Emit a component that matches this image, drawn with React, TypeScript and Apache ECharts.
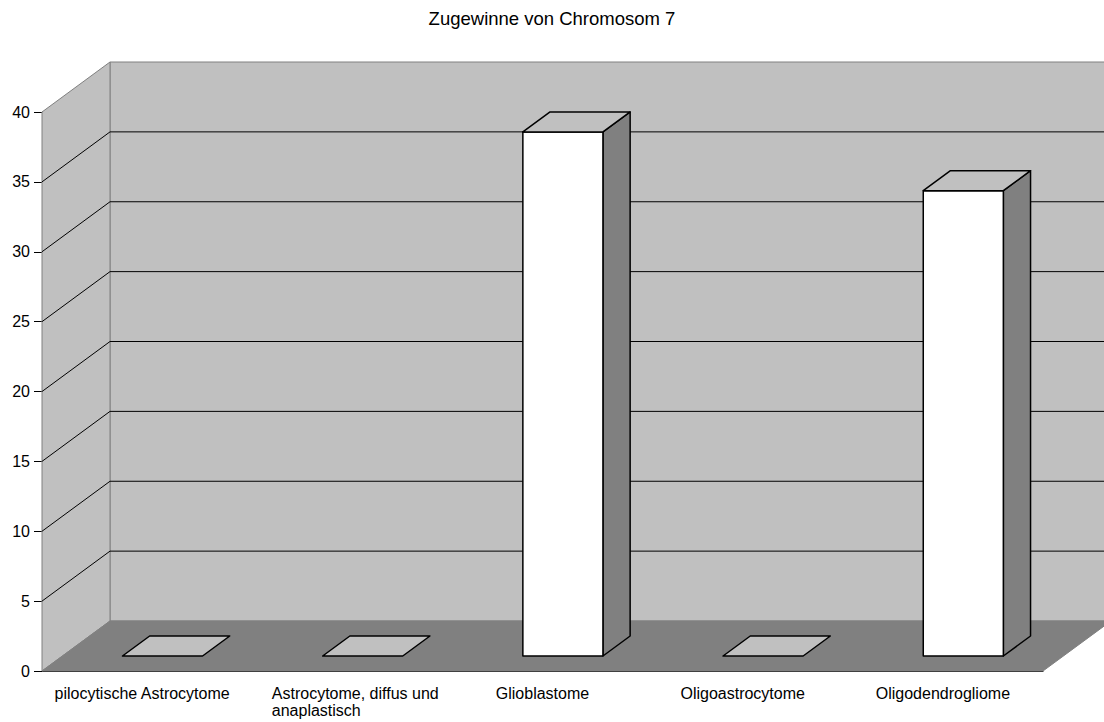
import React, { useEffect, useRef } from "react";
import * as echarts from "echarts";

const chartTitle = "Zugewinne von Chromosom 7";
const categories = [
  "pilocytische Astrocytome",
  "Astrocytome, diffus und\nanaplastisch",
  "Glioblastome",
  "Oligoastrocytome",
  "Oligodendrogliome",
];
const values = [0, 0, 37.5, 0, 33.3];
const yTicks = [0, 5, 10, 15, 20, 25, 30, 35, 40];

const DX = 68;
const DY = 50;
const WALL = "#c0c0c0";
const DARK = "#808080";
const FONT = "'Liberation Sans', Arial, sans-serif";
const LABEL_SIZE = 16;

export default function App() {
  const ref = useRef<HTMLDivElement>(null);
  useEffect(() => {
    if (!ref.current) return;
    const chart = echarts.init(ref.current, null, { renderer: "svg" });

    const ctx = document.createElement("canvas").getContext("2d")!;
    ctx.font = `${LABEL_SIZE}px 'Liberation Sans', Arial, sans-serif`;
    const multiWidth = (s: string) =>
      Math.ceil(Math.max(...s.split("\n").map((l) => ctx.measureText(l).width)));
    const rich: any = {};
    categories.forEach((c, i) => {
      if (c.includes("\n")) {
        rich["c" + i] = {
          width: multiWidth(c),
          align: "left",
          padding: [0, 0, 0, 26],
          fontSize: LABEL_SIZE,
          lineHeight: 17,
          fontFamily: FONT,
          color: "#000",
        };
      }
    });

    const yMin = yTicks[0];
    const yMax = yTicks[yTicks.length - 1];

    chart.setOption({
      animation: false,
      backgroundColor: "#ffffff",
      title: {
        text: chartTitle,
        left: "center",
        top: 4,
        textStyle: { fontSize: 18.5, fontWeight: "normal", color: "#000", fontFamily: FONT },
      },
      grid: { left: 42, right: 61, top: 112, bottom: 51, containLabel: false },
      xAxis: {
        type: "category",
        data: categories,
        boundaryGap: true,
        axisLine: { lineStyle: { color: "#000", width: 1 } },
        axisTick: { length: 9, lineStyle: { color: DARK } },
        axisLabel: {
          margin: 14,
          interval: 0,
          color: "#000",
          fontSize: LABEL_SIZE,
          lineHeight: 17,
          fontFamily: FONT,
          formatter: (v: string) => {
            const i = categories.indexOf(v);
            if (v.includes("\n")) {
              return v
                .split("\n")
                .map((l) => `{c${i}|${l}}`)
                .join("\n");
            }
            return v;
          },
          rich,
        },
        splitLine: { show: false },
      },
      yAxis: {
        type: "value",
        min: yMin,
        max: yMax,
        interval: 5,
        axisLine: { show: true, lineStyle: { color: "#000", width: 1 } },
        axisTick: { show: true, length: 8, lineStyle: { color: "#000" } },
        axisLabel: { margin: 12, color: "#000", fontSize: LABEL_SIZE, fontFamily: FONT },
        splitLine: { show: false },
      },
      series: [
        {
          type: "custom",
          name: "walls",
          silent: true,
          clip: false,
          z: 1,
          data: [[0, 0]],
          renderItem: (params: any, api: any) => {
            const cs = params.coordSys;
            const x = cs.x;
            const y = cs.y;
            const w = cs.width;
            const h = cs.height;
            const children: any[] = [
              {
                type: "rect",
                shape: { x: x + DX, y: y - DY, width: w, height: h },
                style: { fill: WALL, stroke: DARK, lineWidth: 1 },
              },
              {
                type: "polygon",
                shape: {
                  points: [
                    [x, y + h],
                    [x, y],
                    [x + DX, y - DY],
                    [x + DX, y + h - DY],
                  ],
                },
                style: { fill: WALL, stroke: DARK, lineWidth: 1 },
              },
              {
                type: "polygon",
                shape: {
                  points: [
                    [x, y + h],
                    [x + w, y + h],
                    [x + w + DX, y + h - DY],
                    [x + DX, y + h - DY],
                  ],
                },
                style: { fill: DARK, stroke: DARK, lineWidth: 1 },
              },
            ];
            yTicks.forEach((t) => {
              if (t === yMin || t === yMax) return;
              const yy = api.coord([0, t])[1];
              children.push({
                type: "line",
                shape: { x1: x + DX, y1: yy - DY, x2: x + DX + w, y2: yy - DY },
                style: { stroke: "#000", lineWidth: 1 },
              });
              children.push({
                type: "line",
                shape: { x1: x, y1: yy, x2: x + DX, y2: yy - DY },
                style: { stroke: "#000", lineWidth: 1 },
              });
            });
            return { type: "group", children };
          },
        },
        {
          type: "custom",
          name: "Zugewinne",
          clip: false,
          z: 2,
          data: values.map((v, i) => [i, v]),
          renderItem: (params: any, api: any) => {
            const i = api.value(0);
            const v = api.value(1);
            const base = api.coord([i, 0]);
            const top = api.coord([i, v]);
            const bw = api.size([1, 0])[0] * 0.4;
            const fx = base[0] - bw / 2 + DX * 0.3;
            const by = base[1] - DY * 0.3;
            const ty = top[1] - DY * 0.3;
            const ddx = DX * 0.4;
            const ddy = DY * 0.4;
            const stroke = { stroke: "#000", lineWidth: 1.5, lineJoin: "round" };
            const children: any[] = [];
            if (by - ty > 0.5) {
              children.push({
                type: "polygon",
                shape: {
                  points: [
                    [fx + bw, by],
                    [fx + bw + ddx, by - ddy],
                    [fx + bw + ddx, ty - ddy],
                    [fx + bw, ty],
                  ],
                },
                style: { fill: DARK, ...stroke },
              });
              children.push({
                type: "rect",
                shape: { x: fx, y: ty, width: bw, height: by - ty },
                style: { fill: "#ffffff", ...stroke },
              });
            }
            children.push({
              type: "polygon",
              shape: {
                points: [
                  [fx, ty],
                  [fx + bw, ty],
                  [fx + bw + ddx, ty - ddy],
                  [fx + ddx, ty - ddy],
                ],
              },
              style: { fill: WALL, ...stroke },
            });
            return { type: "group", children };
          },
        },
      ],
    });
    return () => chart.dispose();
  }, []);

  return (
    <div
      ref={ref}
      style={{ position: "fixed", left: 0, top: 0, width: 1104, height: 722, background: "#fff" }}
    />
  );
}
